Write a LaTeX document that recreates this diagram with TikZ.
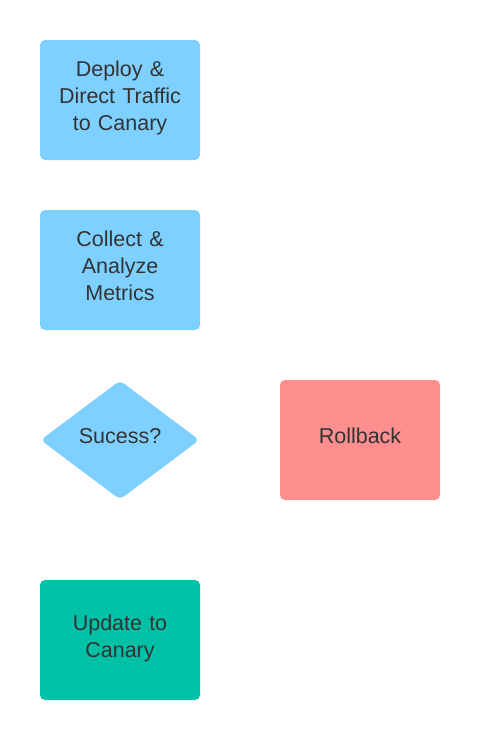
\documentclass[tikz,border=0pt]{standalone}
\usepackage{fontspec}
\setmainfont{Liberation Sans}
\usetikzlibrary{shapes.geometric}
\definecolor{lblue}{HTML}{7DD0FF}
\definecolor{lred}{HTML}{FF8E8E}
\definecolor{lgreen}{HTML}{00C1A6}
\definecolor{txt}{HTML}{333333}
\tikzset{
  box/.style={rectangle, rounded corners=5pt, minimum width=160pt, minimum height=120pt, inner sep=0pt, text width=150pt, align=center, text=txt, font=\fontsize{21.5pt}{27pt}\selectfont},
  dia/.style={diamond, rounded corners=5pt, minimum width=159pt, minimum height=119pt, inner sep=0pt, align=center, text=txt, text depth=8pt, font=\fontsize{21.5pt}{27pt}\selectfont, fill=lblue}
}
\begin{document}
\begin{tikzpicture}[x=1pt,y=-1pt]
\useasboundingbox (0,0) rectangle (480,740);
\node[box, fill=lblue, text depth=62pt] (deploy) at (120,100) {Deploy \&\\Direct Traffic\\to Canary};
\node[box, fill=lblue, text depth=62pt] (collect) at (120,270) {Collect \&\\Analyze\\Metrics};
\node[dia] (success) at (120,440) {Sucess?};
\node[box, fill=lred, text depth=8pt] (rollback) at (360,440) {Rollback};
\node[box, fill=lgreen, text depth=35.5pt] (update) at (120,640) {Update to\\Canary};
\end{tikzpicture}
\end{document}
